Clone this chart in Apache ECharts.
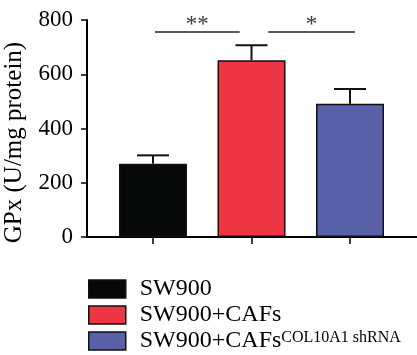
<!DOCTYPE html>
<html>
<head>
<meta charset="utf-8">
<script src="https://cdn.jsdelivr.net/npm/echarts@6/dist/echarts.min.js"></script>
<style>html,body{margin:0;padding:0;background:#fff;}#c{width:417px;height:355px;}</style>
</head>
<body>
<div id="c"></div>
<script>
const categories = ['SW900', 'SW900+CAFs', 'SW900+CAFs COL10A1 shRNA'];
const positions = [1, 2, 3];
const means = [270, 652, 491];
const errors = [31, 55, 55];
const barColors = ['#070808', '#EE3543', '#5860A8'];
const yTicks = [0, 200, 400, 600, 800];
const sigFrom = [1.02, 2.17];
const sigTo = [1.88, 3.05];
const sigLevel = [756, 756];
const sigLabels = ['**', '*'];

const FONT = '"Liberation Serif", "DejaVu Serif", serif';
const chart = echarts.init(document.getElementById('c'), null, {renderer: 'canvas'});

const barSeries = categories.map((name, i) => ({
  type: 'bar',
  name: name,
  data: [[positions[i], means[i]]],
  barWidth: 68,
  barGap: '-100%',
  itemStyle: {color: barColors[i], borderColor: '#111', borderWidth: 1.5},
  z: 2
}));

const errSeries = {
  type: 'custom',
  name: 'err',
  data: positions.map((p, i) => [p, means[i], means[i] + errors[i]]),
  renderItem: function (params, api) {
    const base = api.coord([api.value(0), api.value(1)]);
    const top = api.coord([api.value(0), api.value(2)]);
    const hw = 16;
    return {
      type: 'group',
      children: [
        {type: 'line', shape: {x1: base[0], y1: base[1], x2: top[0], y2: top[1]}, style: {stroke: '#111', lineWidth: 2}},
        {type: 'line', shape: {x1: top[0] - hw, y1: top[1], x2: top[0] + hw, y2: top[1]}, style: {stroke: '#111', lineWidth: 2}}
      ]
    };
  },
  z: 1
};

const sigSeries = {
  type: 'custom',
  name: 'sig',
  clip: false,
  data: sigFrom.map((f, i) => [f, sigTo[i], sigLevel[i], i]),
  renderItem: function (params, api) {
    const a = api.coord([api.value(0), api.value(2)]);
    const b = api.coord([api.value(1), api.value(2)]);
    const label = sigLabels[api.value(3)];
    return {
      type: 'group',
      children: [
        {type: 'line', shape: {x1: a[0], y1: a[1], x2: b[0], y2: b[1]}, style: {stroke: '#222', lineWidth: 1.5}},
        {type: 'text', x: (a[0] + b[0]) / 2, y: a[1] + 5, style: {text: label, fill: '#3a3a3a', font: '23px ' + FONT, align: 'center', verticalAlign: 'bottom'}}
      ]
    };
  },
  z: 3
};

const option = {
  animation: false,
  backgroundColor: '#fff',
  grid: {left: 87, right: 0, top: 20, bottom: 118, containLabel: false, outerBoundsMode: 'none'},
  xAxis: {
    type: 'value',
    min: 0.33,
    max: 3.68,
    axisLine: {show: true, lineStyle: {color: '#000', width: 2}},
    axisTick: {show: true, customValues: positions, length: 7, lineStyle: {color: '#000', width: 1.5}},
    axisLabel: {show: false},
    splitLine: {show: false}
  },
  yAxis: {
    type: 'value',
    min: yTicks[0],
    max: yTicks[yTicks.length - 1],
    interval: 200,
    name: 'GPx (U/mg protein)',
    nameLocation: 'middle',
    nameGap: 60,
    nameRotate: 90,
    nameTextStyle: {fontFamily: FONT, fontSize: 25, color: '#000', padding: [0, 28, 0, 0]},
    axisLine: {show: true, lineStyle: {color: '#000', width: 2}},
    axisTick: {show: true, length: 6, lineStyle: {color: '#000', width: 1.5}},
    axisLabel: {fontFamily: FONT, fontSize: 23, color: '#000', margin: 14},
    splitLine: {show: false}
  },
  legend: {
    show: true,
    orient: 'vertical',
    left: 88,
    top: 277,
    padding: 0,
    height: 80,
    itemWidth: 37,
    itemHeight: 18,
    itemGap: 2,
    icon: 'rect',
    data: categories,
    itemStyle: {borderColor: '#111', borderWidth: 1.5},
    textStyle: {fontFamily: FONT, fontSize: 24, color: '#000', lineHeight: 22, padding: [0, 0, 0, 9],
      rich: {
        main: {fontFamily: FONT, fontSize: 24, color: '#000', lineHeight: 22},
        sup: {fontFamily: FONT, fontSize: 16, color: '#000', lineHeight: 22, verticalAlign: 'top'}
      }
    },
    formatter: function (name) {
      if (name === categories[2]) {
        return '{main|SW900+CAFs}{sup|COL10A1 shRNA}';
      }
      return name;
    }
  },
  series: barSeries.concat([errSeries, sigSeries])
};
chart.setOption(option);
</script>
</body>
</html>
